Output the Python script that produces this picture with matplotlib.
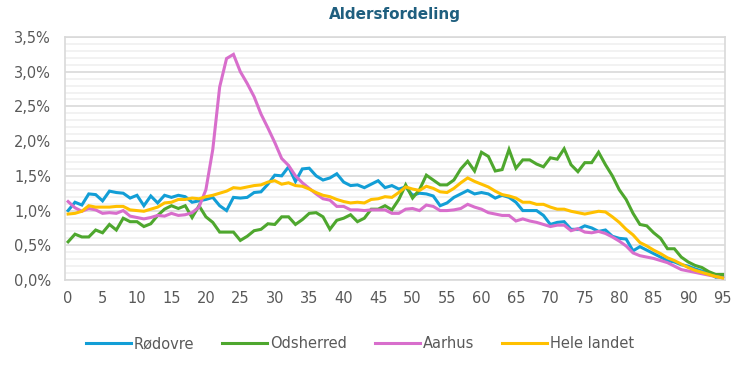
import matplotlib
matplotlib.use("Agg")
import matplotlib.pyplot as plt
from matplotlib.ticker import MultipleLocator, FuncFormatter

ages = list(range(96))

rodovre = [1.00, 1.12, 1.08, 1.24, 1.23, 1.14, 1.28, 1.26, 1.25, 1.18, 1.22, 1.07, 1.21, 1.11, 1.22, 1.19,
           1.22, 1.20, 1.12, 1.14, 1.16, 1.19, 1.07, 1.00, 1.19, 1.18, 1.19, 1.26, 1.27, 1.38, 1.51, 1.50,
           1.63, 1.42, 1.60, 1.61, 1.50, 1.44, 1.47, 1.53, 1.41, 1.36, 1.37, 1.33, 1.38, 1.43, 1.33, 1.36,
           1.31, 1.34, 1.22, 1.25, 1.24, 1.21, 1.07, 1.11, 1.19, 1.24, 1.29, 1.24, 1.26, 1.24, 1.18, 1.22,
           1.19, 1.12, 1.00, 1.00, 1.00, 0.93, 0.80, 0.83, 0.84, 0.73, 0.73, 0.78, 0.75, 0.70, 0.72, 0.63,
           0.60, 0.59, 0.42, 0.48, 0.43, 0.38, 0.33, 0.28, 0.26, 0.22, 0.20, 0.16, 0.13, 0.10, 0.04, 0.05]

odsherred = [0.55, 0.66, 0.62, 0.62, 0.72, 0.68, 0.80, 0.72, 0.89, 0.84, 0.84, 0.77, 0.81, 0.93, 1.02, 1.07,
             1.03, 1.07, 0.90, 1.07, 0.91, 0.83, 0.69, 0.69, 0.69, 0.57, 0.63, 0.71, 0.73, 0.81, 0.80, 0.91,
             0.91, 0.80, 0.87, 0.96, 0.97, 0.91, 0.73, 0.86, 0.89, 0.94, 0.84, 0.89, 1.02, 1.02, 1.07, 1.01,
             1.16, 1.37, 1.18, 1.30, 1.51, 1.44, 1.37, 1.37, 1.44, 1.60, 1.71, 1.57, 1.84, 1.78, 1.57, 1.59,
             1.88, 1.61, 1.73, 1.73, 1.67, 1.63, 1.76, 1.74, 1.89, 1.66, 1.56, 1.69, 1.69, 1.84, 1.66, 1.50,
             1.30, 1.16, 0.96, 0.80, 0.78, 0.68, 0.60, 0.45, 0.45, 0.33, 0.26, 0.21, 0.18, 0.12, 0.08, 0.08]

aarhus = [1.13, 1.04, 0.99, 1.03, 1.01, 0.96, 0.97, 0.96, 1.00, 0.92, 0.90, 0.88, 0.90, 0.93, 0.92, 0.96,
          0.93, 0.94, 0.97, 1.05, 1.30, 1.88, 2.78, 3.19, 3.25, 3.00, 2.83, 2.64, 2.39, 2.19, 1.98, 1.75,
          1.65, 1.50, 1.40, 1.32, 1.24, 1.17, 1.15, 1.06, 1.06, 1.01, 1.01, 1.00, 1.01, 1.01, 1.01, 0.96,
          0.96, 1.02, 1.03, 1.00, 1.08, 1.06, 1.00, 1.00, 1.01, 1.03, 1.09, 1.05, 1.02, 0.97, 0.95, 0.93,
          0.93, 0.85, 0.88, 0.85, 0.83, 0.80, 0.77, 0.79, 0.79, 0.71, 0.74, 0.69, 0.68, 0.70, 0.67, 0.62,
          0.56, 0.49, 0.39, 0.35, 0.33, 0.31, 0.28, 0.25, 0.20, 0.15, 0.13, 0.11, 0.09, 0.07, 0.05, 0.03]

hele_landet = [0.95, 0.96, 0.99, 1.07, 1.05, 1.05, 1.05, 1.06, 1.06, 1.01, 1.00, 0.99, 1.02, 1.05, 1.11, 1.12,
               1.16, 1.16, 1.18, 1.17, 1.20, 1.22, 1.25, 1.28, 1.33, 1.32, 1.34, 1.36, 1.37, 1.41, 1.43, 1.38,
               1.40, 1.36, 1.35, 1.31, 1.26, 1.22, 1.20, 1.16, 1.13, 1.11, 1.12, 1.11, 1.16, 1.17, 1.20, 1.19,
               1.26, 1.34, 1.31, 1.29, 1.35, 1.32, 1.27, 1.26, 1.32, 1.40, 1.47, 1.42, 1.38, 1.34, 1.28, 1.23,
               1.21, 1.18, 1.12, 1.12, 1.09, 1.09, 1.05, 1.02, 1.02, 0.99, 0.97, 0.95, 0.97, 0.99, 0.98, 0.91,
               0.83, 0.73, 0.65, 0.54, 0.49, 0.43, 0.38, 0.32, 0.28, 0.23, 0.18, 0.14, 0.11, 0.08, 0.05, 0.03]

series_names = ["Rødovre", "Odsherred", "Aarhus", "Hele landet"]
colors = ["#129ED6", "#4EA72E", "#D86ECC", "#FFC000"]
title = "Aldersfordeling"

fig = plt.figure(figsize=(7.43, 3.65), dpi=100)
ax = fig.add_axes([65 / 743, 1 - 280 / 365, (725 - 65) / 743, (280 - 37) / 365])

for name, vals, c in zip(series_names, [rodovre, odsherred, aarhus, hele_landet], colors):
    ax.plot(ages, vals, color=c, lw=2.2, label=name, solid_joinstyle="miter", zorder=3)

ax.set_xlim(-0.45, 95.35)
ax.set_ylim(0, 3.5)
ax.xaxis.set_major_locator(MultipleLocator(5))
ax.yaxis.set_major_locator(MultipleLocator(0.5))
ax.yaxis.set_minor_locator(MultipleLocator(0.1))
ax.yaxis.set_major_formatter(FuncFormatter(lambda v, p: f"{v:.1f}%".replace(".", ",")))
ax.grid(axis="y", which="major", color="#D9D9D9", lw=1.2, zorder=0)
ax.grid(axis="y", which="minor", color="#F0F0F0", lw=1.2, zorder=0)
ax.tick_params(which="both", length=0, labelsize=10.5, labelcolor="#595959")
ax.tick_params(axis="x", pad=8)
ax.tick_params(axis="y", pad=10)
for s in ax.spines.values():
    s.set_color("#D9D9D9")
    s.set_linewidth(1.2)

fig.text(395 / 743, 1 - 15 / 365, title, ha="center", va="center", fontsize=11,
         fontweight="bold", color="#1F5F7F")

leg = fig.legend(loc="center", bbox_to_anchor=(360 / 743, 1 - 344 / 365), ncol=4, frameon=False,
                 fontsize=10.5, handlelength=3.1, handletextpad=0.2, columnspacing=1.9)
for t in leg.get_texts():
    t.set_color("#595959")

fig.savefig("out.png", dpi=100)
